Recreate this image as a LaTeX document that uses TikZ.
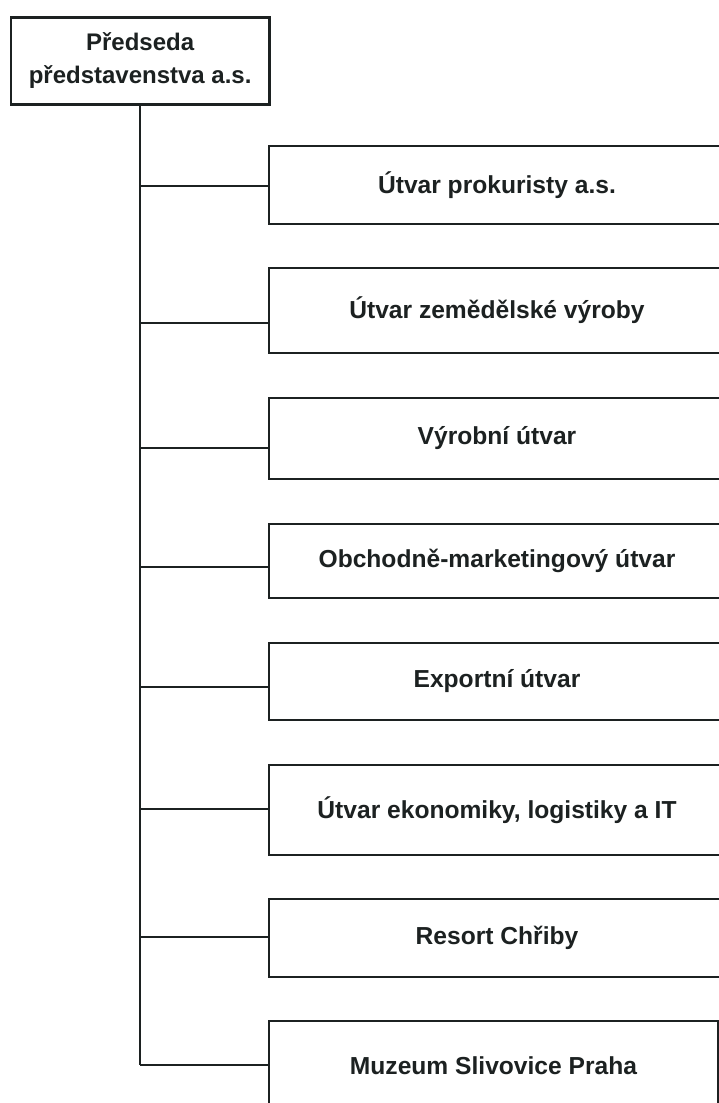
\documentclass[tikz,border=0pt]{standalone}
\usepackage{fontspec}
\setmainfont{Liberation Sans}
\definecolor{ink}{RGB}{28,33,33}
\begin{document}
\begin{tikzpicture}[x=1pt,y=-1pt,
  unit/.style={draw=ink, line width=2pt, anchor=north west, inner sep=0pt,
    font=\fontsize{24.6}{32}\selectfont\bfseries, text=ink, align=center},
  head/.style={draw=ink, line width=2.8pt, anchor=north west, inner sep=0pt,
    font=\fontsize{24}{33}\selectfont\bfseries, text=ink, align=center},
  link/.style={draw=ink, line width=1.8pt}]
\useasboundingbox (0,0) rectangle (719,1103);
\clip (0,0) rectangle (719,1103);
\fill[white] (0,0) rectangle (719,1103);
\node[head, minimum width=258.5, minimum height=87] (top) at (9.5,16) {Předseda\\představenstva a.s.};
\node[unit, minimum width=456, minimum height=77.5] (b1) at (268,145) {Útvar prokuristy a.s.};
\node[unit, minimum width=456, minimum height=85.5] (b2) at (268,266.5) {Útvar zemědělské výroby};
\node[unit, minimum width=456, minimum height=81] (b3) at (268,397) {Výrobní útvar};
\node[unit, minimum width=456, minimum height=74.3] (b4) at (268,522.7) {Obchodně-marketingový útvar};
\node[unit, minimum width=456, minimum height=77.3] (b5) at (268,641.7) {Exportní útvar};
\node[unit, minimum width=456, minimum height=90] (b6) at (268,764) {Útvar ekonomiky, logistiky a IT};
\node[unit, minimum width=456, minimum height=78.3] (b7) at (268,897.7) {Resort Chřiby};
\node[unit, minimum width=449, minimum height=90] (b8) at (268,1020) {Muzeum Slivovice Praha};
\coordinate (j1) at (140,186);
\coordinate (j2) at (140,322.7);
\coordinate (j3) at (140,447.7);
\coordinate (j4) at (140,567);
\coordinate (j5) at (140,686.7);
\coordinate (j6) at (140,809);
\coordinate (j7) at (140,937.3);
\coordinate (j8) at (140,1065);
\draw[link, line width=2.2pt] (top.south -| j1) -- (j8);
\draw[link] (j8) -- (j8 -| b8.west);
\foreach \i in {1,...,7} { \draw[link] (j\i) -- (j\i -| b\i.west); }
\end{tikzpicture}
\end{document}
